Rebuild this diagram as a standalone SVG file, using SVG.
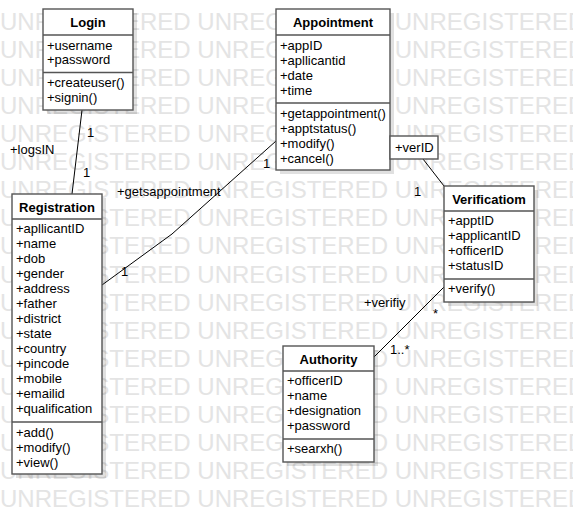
<svg xmlns="http://www.w3.org/2000/svg" width="573" height="514" viewBox="0 0 573 514">
<style>
.wm{font-family:"Liberation Sans",Arial,sans-serif;font-size:24px;fill:#e4e4e4}
.box{fill:#fff;stroke:#555;stroke-width:1.4}
.sh{fill:#000;fill-opacity:0.12}
.dv{stroke:#555;stroke-width:1.4}
.t{font-family:"Liberation Sans",Arial,sans-serif;font-size:13px;fill:#000}
.h{font-family:"Liberation Sans",Arial,sans-serif;font-size:13px;font-weight:bold;text-anchor:middle;fill:#000}
.ln{fill:none;stroke:#000;stroke-width:1}
</style>
<rect width="573" height="514" fill="#fff"/>
<g id="watermark">
<text class="wm" x="0" y="30">UNREGISTERED UNREGISTERED UNREGISTERED</text>
<text class="wm" x="0" y="58">UNREGISTERED UNREGISTERED UNREGISTERED</text>
<text class="wm" x="0" y="86.1">UNREGISTERED UNREGISTERED UNREGISTERED</text>
<text class="wm" x="0" y="114.2">UNREGISTERED UNREGISTERED UNREGISTERED</text>
<text class="wm" x="0" y="142.2">UNREGISTERED UNREGISTERED UNREGISTERED</text>
<text class="wm" x="0" y="170.3">UNREGISTERED UNREGISTERED UNREGISTERED</text>
<text class="wm" x="0" y="198.3">UNREGISTERED UNREGISTERED UNREGISTERED</text>
<text class="wm" x="0" y="226.4">UNREGISTERED UNREGISTERED UNREGISTERED</text>
<text class="wm" x="0" y="254.4">UNREGISTERED UNREGISTERED UNREGISTERED</text>
<text class="wm" x="0" y="282.5">UNREGISTERED UNREGISTERED UNREGISTERED</text>
<text class="wm" x="0" y="310.5">UNREGISTERED UNREGISTERED UNREGISTERED</text>
<text class="wm" x="0" y="338.6">UNREGISTERED UNREGISTERED UNREGISTERED</text>
<text class="wm" x="0" y="366.6">UNREGISTERED UNREGISTERED UNREGISTERED</text>
<text class="wm" x="0" y="394.7">UNREGISTERED UNREGISTERED UNREGISTERED</text>
<text class="wm" x="0" y="422.7">UNREGISTERED UNREGISTERED UNREGISTERED</text>
<text class="wm" x="0" y="450.8">UNREGISTERED UNREGISTERED UNREGISTERED</text>
<text class="wm" x="0" y="478.8">UNREGISTERED UNREGISTERED UNREGISTERED</text>
<text class="wm" x="0" y="506.9">UNREGISTERED UNREGISTERED UNREGISTERED</text>
</g>
<g id="connectors">
<line class="ln" x1="82" y1="110" x2="72" y2="194"/>
<polyline class="ln" points="102,285 172,234 276,141"/>
<line class="ln" x1="423" y1="159" x2="444" y2="186"/>
<line class="ln" x1="374" y1="357" x2="444" y2="287"/>
<text class="t" x="87" y="137">1</text>
<text class="t" x="83" y="177">1</text>
<text class="t" x="10" y="154">+logsIN</text>
<text class="t" x="117" y="196">+getsappointment</text>
<text class="t" x="263" y="168">1</text>
<text class="t" x="121" y="276">1</text>
<text class="t" x="414" y="196">1</text>
<text class="t" x="364" y="307">+verifiy</text>
<text class="t" x="433" y="318">*</text>
<text class="t" x="390" y="354">1..*</text>
</g>
<g id="login">
<rect class="sh" x="47" y="13" width="90" height="101"/>
<rect class="box" x="43" y="9" width="90" height="101"/>
<line class="dv" x1="43" y1="35" x2="133" y2="35"/>
<line class="dv" x1="43" y1="72.5" x2="133" y2="72.5"/>
<text class="h" x="88" y="26.5">Login</text>
<text class="t" x="47" y="49.5">+username</text>
<text class="t" x="47" y="64">+password</text>
<text class="t" x="47" y="87">+createuser()</text>
<text class="t" x="47" y="102">+signin()</text>
</g>
<g id="appointment">
<rect class="sh" x="280" y="13" width="114" height="161"/>
<rect class="box" x="276" y="9" width="114" height="161"/>
<line class="dv" x1="276" y1="35" x2="390" y2="35"/>
<line class="dv" x1="276" y1="103" x2="390" y2="103"/>
<text class="h" x="333" y="26.5">Appointment</text>
<text class="t" x="280" y="49.5">+appID</text>
<text class="t" x="280" y="64.5">+apllicantid</text>
<text class="t" x="280" y="79.5">+date</text>
<text class="t" x="280" y="94.5">+time</text>
<text class="t" x="280" y="117.5">+getappointment()</text>
<text class="t" x="280" y="132.5">+apptstatus()</text>
<text class="t" x="280" y="147.5">+modify()</text>
<text class="t" x="280" y="162.5">+cancel()</text>
</g>
<g id="qualifier-verID">
<rect class="box" x="390" y="136" width="48" height="23"/>
<text class="t" x="395" y="152">+verID</text>
</g>
<g id="registration">
<rect class="sh" x="16" y="198" width="90" height="280"/>
<rect class="box" x="12" y="194" width="90" height="280"/>
<line class="dv" x1="12" y1="219" x2="102" y2="219"/>
<line class="dv" x1="12" y1="422" x2="102" y2="422"/>
<text class="h" x="57" y="211.5">Registration</text>
<text class="t" x="16" y="233">+apllicantID</text>
<text class="t" x="16" y="248">+name</text>
<text class="t" x="16" y="263">+dob</text>
<text class="t" x="16" y="278">+gender</text>
<text class="t" x="16" y="293">+address</text>
<text class="t" x="16" y="308">+father</text>
<text class="t" x="16" y="323">+district</text>
<text class="t" x="16" y="338">+state</text>
<text class="t" x="16" y="353">+country</text>
<text class="t" x="16" y="368">+pincode</text>
<text class="t" x="16" y="383">+mobile</text>
<text class="t" x="16" y="398">+emailid</text>
<text class="t" x="16" y="413">+qualification</text>
<text class="t" x="16" y="437">+add()</text>
<text class="t" x="16" y="452">+modify()</text>
<text class="t" x="16" y="467">+view()</text>
</g>
<g id="verificatiom">
<rect class="sh" x="448" y="190" width="90" height="116"/>
<rect class="box" x="444" y="186" width="90" height="116"/>
<line class="dv" x1="444" y1="211" x2="534" y2="211"/>
<line class="dv" x1="444" y1="279" x2="534" y2="279"/>
<text class="h" x="489" y="203.5">Verificatiom</text>
<text class="t" x="448" y="225">+apptID</text>
<text class="t" x="448" y="240">+applicantID</text>
<text class="t" x="448" y="255">+officerID</text>
<text class="t" x="448" y="270">+statusID</text>
<text class="t" x="448" y="293">+verify()</text>
</g>
<g id="authority">
<rect class="sh" x="287" y="350" width="91" height="116"/>
<rect class="box" x="283" y="346" width="91" height="116"/>
<line class="dv" x1="283" y1="371" x2="374" y2="371"/>
<line class="dv" x1="283" y1="439" x2="374" y2="439"/>
<text class="h" x="328.5" y="363.5">Authority</text>
<text class="t" x="287" y="385">+officerID</text>
<text class="t" x="287" y="400">+name</text>
<text class="t" x="287" y="415">+designation</text>
<text class="t" x="287" y="430">+password</text>
<text class="t" x="287" y="453">+searxh()</text>
</g>
</svg>
